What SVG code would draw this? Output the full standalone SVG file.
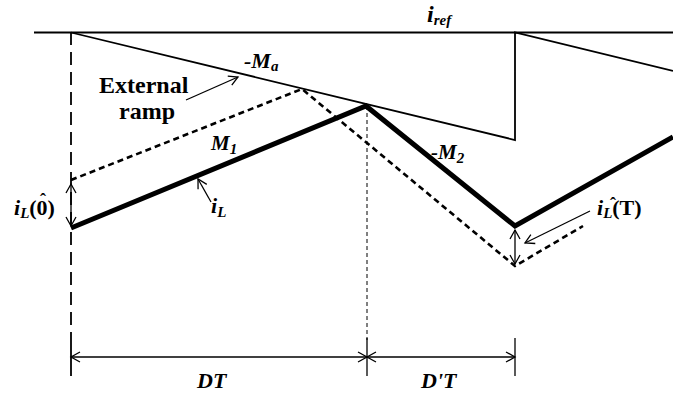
<svg xmlns="http://www.w3.org/2000/svg" width="673" height="394" viewBox="0 0 673 394">
<defs>
<style>
text{font-family:'Liberation Serif','Tinos','Times New Roman','DejaVu Serif',serif;fill:#000}
.bi{font-weight:bold;font-style:italic}
.b{font-weight:bold;font-style:normal}
.thin{stroke:#000;stroke-width:1.3;fill:none}
.ref{stroke:#000;stroke-width:1.8;fill:none}
.thick{stroke:#000;stroke-width:5;fill:none;stroke-linejoin:miter}
.dash{stroke:#000;stroke-width:2.6;fill:none;stroke-dasharray:6 4}
</style>
<marker id="arr" viewBox="-10 -6 12 12" markerWidth="12" markerHeight="12" refX="0" refY="0" orient="auto" markerUnits="userSpaceOnUse">
<path d="M-9,-5 L0,0 L-9,5" fill="none" stroke="#000" stroke-width="1.3"/>
</marker>
</defs>
<rect width="673" height="394" fill="#fff"/>
<g id="waveforms">
<line class="ref" x1="34" y1="32.5" x2="673" y2="32.5"/>
<polyline class="ref" points="71,32.5 515,140 515,32.5 673,71"/>
<line x1="71" y1="32" x2="71" y2="340" stroke="#000" stroke-width="1.8" stroke-dasharray="13 7"/>
<line x1="71" y1="340" x2="71" y2="376" stroke="#000" stroke-width="1.8"/>
<line x1="367" y1="106" x2="367" y2="340" stroke="#000" stroke-width="1" stroke-dasharray="4 3"/>
<polyline class="dash" points="71,180 302,89 515,266 583,226"/>
<polyline class="thick" points="71,228 366,106 515,226 673,137"/>
</g>
<g id="connectors">
<line class="thin" x1="71" y1="205" x2="71" y2="184" marker-end="url(#arr)"/>
<line class="thin" x1="71" y1="205" x2="71" y2="226" marker-end="url(#arr)"/>
<line class="thin" x1="515" y1="246" x2="515" y2="230" marker-end="url(#arr)"/>
<line class="thin" x1="515" y1="246" x2="515" y2="264" marker-end="url(#arr)"/>
<line class="thin" x1="186" y1="100" x2="238" y2="77" marker-end="url(#arr)"/>
<line class="thin" x1="211" y1="202" x2="198" y2="179" marker-end="url(#arr)"/>
<line class="thin" x1="590" y1="211" x2="525" y2="243" marker-end="url(#arr)"/>
<line class="thin" x1="367" y1="338" x2="367" y2="376"/>
<line class="thin" x1="515" y1="338" x2="515" y2="376"/>
<line class="thin" x1="219" y1="357" x2="71" y2="357" marker-end="url(#arr)"/>
<line class="thin" x1="219" y1="357" x2="367" y2="357" marker-end="url(#arr)"/>
<line class="thin" x1="441" y1="357" x2="367" y2="357" marker-end="url(#arr)"/>
<line class="thin" x1="441" y1="357" x2="515" y2="357" marker-end="url(#arr)"/>
</g>
<g id="label-iref"><text class="bi" x="427" y="22" font-size="24">i<tspan font-size="15" dy="3">ref</tspan></text></g>
<g id="label-Ma"><text class="bi" x="244" y="68" font-size="22">-M<tspan font-size="15" dy="3">a</tspan></text></g>
<g id="label-external"><text class="b" x="99" y="93" font-size="24">External</text><text class="b" x="119" y="119" font-size="24">ramp</text></g>
<g id="label-M1"><text class="bi" x="211" y="150" font-size="21">M<tspan font-size="15" dy="4">1</tspan></text></g>
<g id="label-iL"><text class="bi" x="211" y="213" font-size="22">i<tspan font-size="15" dy="4">L</tspan></text></g>
<g id="label-M2"><text class="bi" x="431" y="159" font-size="21">-M<tspan font-size="15" dy="4">2</tspan></text></g>
<g id="label-iL0"><text class="bi" x="14" y="215" font-size="22">i<tspan font-size="15" dy="3">L</tspan><tspan class="b" font-size="22" dy="-3">(0)</tspan><tspan class="b" font-size="18" x="40" y="206">ˆ</tspan></text></g>
<g id="label-iLT"><text class="bi" x="597" y="215" font-size="22">i<tspan font-size="15" dy="3">L</tspan><tspan class="b" font-size="22" dy="-3">(T)</tspan><tspan class="b" font-size="18" x="610" y="210">ˆ</tspan></text></g>
<g id="label-DT"><text class="bi" x="197" y="388" font-size="22">DT</text></g>
<g id="label-DpT"><text class="bi" x="421" y="388" font-size="22">D'T</text></g>
</svg>
